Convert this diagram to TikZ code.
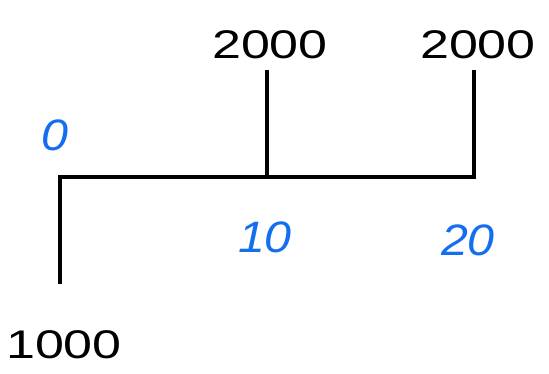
\documentclass[tikz,border=0pt]{standalone}
\usepackage{fontspec}
\setmainfont{Liberation Sans}
\definecolor{penblue}{RGB}{20,110,240}
\begin{document}
\begin{tikzpicture}[x=1pt,y=1pt,
  bar/.style={line width=4.5pt,line cap=rect,black},
  amt/.style={font=\fontsize{40}{42}\selectfont,xscale=1.3,black,inner sep=0pt},
  per/.style={penblue,inner sep=0pt,xscale=1.1,font=\fontsize{44}{46}\selectfont\itshape}]
\useasboundingbox (0,0) rectangle (549,373);
\coordinate (t0) at (60,196);
\coordinate (t10) at (267,196);
\coordinate (t20) at (474,196);
\coordinate (b0) at (60,91);
\coordinate (u10) at (267,301);
\coordinate (u20) at (474,301);
\draw[bar] (t0) -- (t10) -- (t20);
\draw[bar] (t0) -- (b0);
\draw[bar] (t10) -- (u10);
\draw[bar] (t20) -- (u20);
\node[amt] (a10) at (270,328) {2000};
\node[amt] (a20) at (478,328) {2000};
\node[amt] (a0) at (64,28) {1000};
\node[per] (p0) at (55,238) {0};
\node[per] (p10) at (265,136) {10};
\node[per] (p20) at (468,133) {20};
\end{tikzpicture}
\end{document}
